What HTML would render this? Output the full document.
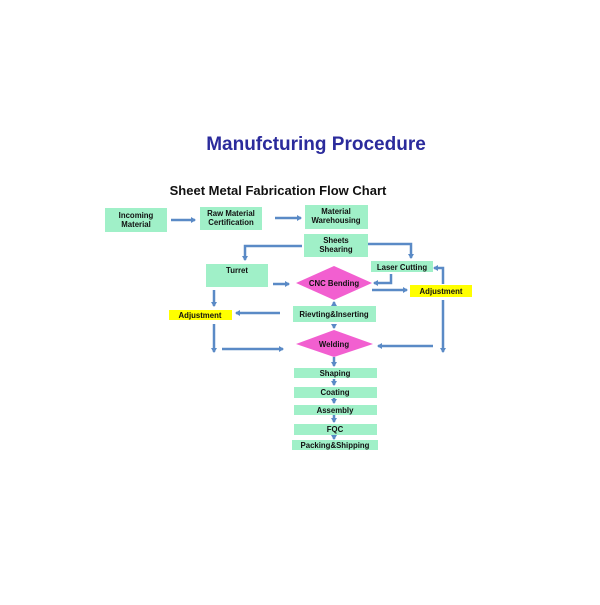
<!DOCTYPE html>
<html><head><meta charset="utf-8"><style>
html,body{margin:0;padding:0;background:#fff;}
body{width:600px;height:600px;overflow:hidden;}
svg text{font-family:"Liberation Sans",Arial,sans-serif;font-weight:bold;}
</style></head><body>
<svg width="600" height="600" viewBox="0 0 600 600" xmlns="http://www.w3.org/2000/svg">
<defs>
<marker id="a" markerWidth="6" markerHeight="6" refX="4" refY="3" orient="auto" markerUnits="userSpaceOnUse">
<path d="M0,0 L5,3 L0,6 z" fill="#5a8ac6"/></marker>
</defs>
<text x="316" y="150" font-size="19" fill="#2b2b9c" text-anchor="middle">Manufcturing Procedure</text>
<text x="278" y="195" font-size="13" fill="#111" text-anchor="middle">Sheet Metal Fabrication Flow Chart</text>

<g fill="#a0f0c8">
<rect x="105" y="208" width="62" height="24"/>
<rect x="200" y="207" width="62" height="23"/>
<rect x="305" y="205" width="63" height="24"/>
<rect x="304" y="234" width="64" height="23"/>
<rect x="206" y="264" width="62" height="23"/>
<rect x="371" y="261" width="62" height="11"/>
<rect x="293" y="306" width="83" height="16"/>
<rect x="294" y="368" width="83" height="10"/>
<rect x="294" y="387" width="83" height="11"/>
<rect x="294" y="405" width="83" height="10"/>
<rect x="294" y="424" width="83" height="11"/>
<rect x="292" y="440" width="86" height="10"/>
</g>
<g fill="#ffff00">
<rect x="410" y="285" width="62" height="12"/>
<rect x="169" y="310" width="63" height="10"/>
</g>
<g fill="#f25fd0">
<polygon points="296,283 334,266 372,283 334,300"/>
<polygon points="296,344 334,330 373,344 334,357"/>
</g>

<g stroke="#5a8ac6" stroke-width="2.5" fill="none" marker-end="url(#a)">
<path d="M171,220 H195"/>
<path d="M275,218 H301"/>
<path d="M302,246 H245 V260"/>
<path d="M368,244 H411 V258"/>
<path d="M391,274 V283 H374"/>
<path d="M443,284 V268 H434"/>
<path d="M372,290 H407"/>
<path d="M273,284 H289"/>
<path d="M214,290 V306"/>
<path d="M280,313 H236"/>
<path d="M214,324 V352"/>
<path d="M222,349 H283"/>
<path d="M443,300 V352"/>
<path d="M433,346 H378"/>
<path d="M334,304 V302"/>
<path d="M334,325 V328"/>
<path d="M334,357 V366"/>
<path d="M334,379 V385"/>
<path d="M334,398 V403"/>
<path d="M334,415 V422"/>
<path d="M334,435 V439"/>
</g>

<g font-size="7.8" fill="#111" text-anchor="middle">
<text x="136" y="218">Incoming</text><text x="136" y="227">Material</text>
<text x="231" y="216">Raw Material</text><text x="231" y="225">Certification</text>
<text x="336" y="214">Material</text><text x="336" y="223">Warehousing</text>
<text x="336" y="243">Sheets</text><text x="336" y="252">Shearing</text>
<text x="237" y="273">Turret</text>
<text x="402" y="270">Laser Cutting</text>
<text x="334" y="286">CNC Bending</text>
<text x="441" y="294">Adjustment</text>
<text x="200" y="318">Adjustment</text>
<text x="334" y="317">Rievting&amp;Inserting</text>
<text x="334" y="347">Welding</text>
<text x="335" y="376">Shaping</text>
<text x="335" y="395">Coating</text>
<text x="335" y="413">Assembly</text>
<text x="335" y="432">FQC</text>
<text x="335" y="448">Packing&amp;Shipping</text>
</g>
</svg>
</body></html>
